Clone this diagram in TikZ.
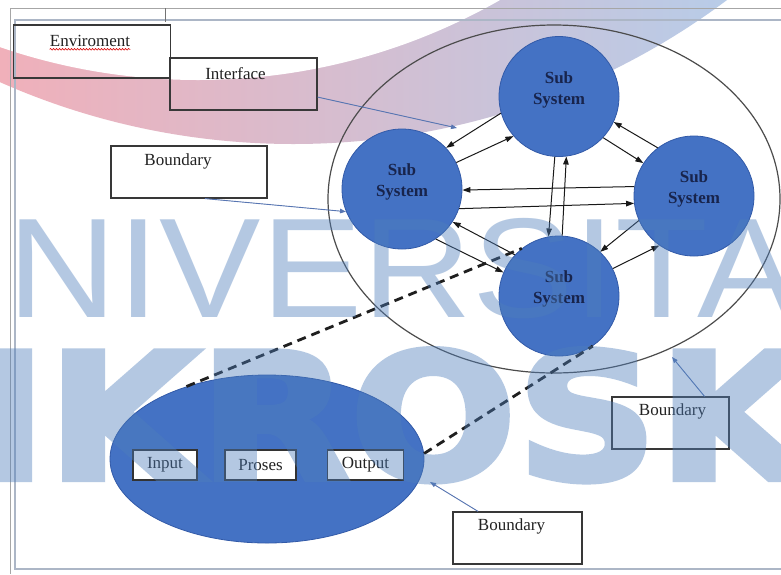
\documentclass[tikz,border=0pt]{standalone}
\usepackage{fontspec}
\setmainfont{Liberation Serif}
\newfontfamily\wmlight[FakeStretch=1.07]{Liberation Sans}
\newfontfamily\wmheavy[FakeBold=3.5,FakeStretch=1.12]{DejaVu Sans Bold}
\usetikzlibrary{arrows.meta,shapes.geometric,decorations.pathmorphing}

\definecolor{subblue}{RGB}{68,114,196}
\definecolor{subedge}{RGB}{50,90,168}
\definecolor{inktext}{RGB}{34,34,34}
\definecolor{navytext}{RGB}{24,36,76}
\definecolor{framecol}{RGB}{172,182,198}
\definecolor{pointercol}{RGB}{88,118,178}
\definecolor{swooshL}{RGB}{240,176,186}
\definecolor{swooshM}{RGB}{214,194,214}
\definecolor{swooshR}{RGB}{184,204,232}
\definecolor{wmark}{RGB}{78,126,187}

\begin{document}
\begin{tikzpicture}[x=1pt,y=-1pt,
  tagbox/.style={draw=black!78, line width=1.2pt, inner sep=0pt},
  tagtext/.style={font=\fontsize{17}{17}\selectfont, text=inktext, inner sep=0pt},
  smallbox/.style={draw=black!80, fill=white, line width=1.2pt, inner sep=0pt,
    minimum height=30, font=\fontsize{17}{17}\selectfont, text=inktext},
  subsys/.style={circle, fill=subblue, draw=subedge, line width=0.8pt,
    minimum size=120, inner sep=0pt},
  subtext/.style={font=\bfseries\fontsize{17}{21}\selectfont, text=navytext,
    align=center, inner sep=0pt},
  flow/.style={-{Triangle[length=8pt,width=5.5pt]}, line width=1pt, draw=black!90},
  pointer/.style={-{Triangle[length=6pt,width=4.5pt]}, line width=0.9pt,
    draw=pointercol, fill=pointercol},
  link/.style={line width=2.8pt, dash pattern=on 9pt off 6pt, draw=black!88},
  wm/.style={anchor=base west, inner sep=0pt, text=wmark}]

\useasboundingbox (0,0) rectangle (781,574);
\fill[white] (0,0) rectangle (781,574);

% swoosh band across the top
\begin{scope}
  \clip (0,0) rectangle (781,574);
  \begin{scope}
    \clip (293.4,-580.7) circle (724.7);
    \shade[left color=swooshL, middle color=swooshM, right color=swooshR]
      (0,0) rectangle (727,150);
  \end{scope}
  \fill[white] (198,-529.6) circle (609.6);
\end{scope}

% page frame
\draw[black!35, line width=0.8pt] (781,8) -- (10,8) -- (10,574);
\draw[framecol, line width=2pt] (781,20) -- (15,20) -- (15,569) -- (781,569);
\draw[black!55, line width=1pt] (165,8) -- (165,22);

% labels
\node[tagbox, minimum width=157, minimum height=53] (env) at (92,51.5) {};
\node[tagbox, minimum width=147, minimum height=52] (iface) at (243.5,84) {};
\node[tagbox, minimum width=156, minimum height=52] (bnd1) at (189,172) {};
\node[tagbox, minimum width=117, minimum height=52] (bnd2) at (670.5,423) {};
\node[tagbox, minimum width=129, minimum height=52] (bnd3) at (517.5,538) {};

\node[tagtext] (envtext) at ([xshift=-2pt,yshift=-17pt]env.north) {Enviroment};
\draw[red!85!black, line width=0.6pt, decorate,
  decoration={snake, amplitude=0.8pt, segment length=3pt}]
  ([yshift=-2pt]envtext.south west) -- ([yshift=-2pt]envtext.south east);
\node[tagtext] at ([xshift=-8pt,yshift=-16pt]iface.north) {Interface};
\node[tagtext] at ([xshift=-11pt,yshift=-16pt]bnd1.north) {Boundary};
\node[tagtext] at ([xshift=2pt,yshift=-15pt]bnd2.north) {Boundary};
\node[tagtext] at ([xshift=-6pt,yshift=-15pt]bnd3.north) {Boundary};

% system boundary and its sub systems
\node[ellipse, draw=black!70, line width=1.2pt, minimum width=452,
  minimum height=348, inner sep=0pt] (sysb) at (554,199) {};

\node[subsys] (T) at (559,96.5) {};
\node[subsys] (L) at (402,189) {};
\node[subsys] (R) at (694,196) {};
\node[subsys] (B) at (559,296) {};
\foreach \n in {T,L,R,B}
  \node[subtext] at ([yshift=7pt]\n.center) {Sub\\System};

\draw[flow] (T.196) -- (L.43);
\draw[flow] (L.26) -- (T.221);
\draw[flow] (T.317) -- (R.147);
\draw[flow] (R.127) -- (T.335);
\draw[flow] (R.171) -- (L.359);
\draw[flow] (L.341) -- (R.187);
\draw[flow] (T.266) -- (B.100);
\draw[flow] (B.87) -- (T.277);
\draw[flow] (B.137) -- (L.327);
\draw[flow] (L.304) -- (B.157);
\draw[flow] (R.204) -- (B.47);
\draw[flow] (B.27) -- (R.235);

% the process view
\node[ellipse, fill=subblue, draw=subedge, line width=0.8pt,
  minimum width=314, minimum height=168, inner sep=0pt] (proc) at (267,459) {};
\node[smallbox, minimum width=64] (inp) at (165,465) {Input};
\node[smallbox, minimum width=71] (prs) at (260.5,465) {Proses};
\node[smallbox, minimum width=76] (out) at (365.5,465) {Output};

\draw[link] (proc.138.6) -- (B.128);
\draw[link] (proc.2.5) -- (B.304);

% pointers from the labels
\coordinate (ifaceTip) at (457,128);
\coordinate (bnd2Tip) at (672,357);
\coordinate (bnd3Tip) at (430,482);
\draw[pointer] (iface.-10) -- (ifaceTip);
\draw[pointer] (bnd1.-59) -- (L.202);
\draw[pointer] (bnd2.38.7) -- (bnd2Tip);
\draw[pointer] (bnd3.146) -- (bnd3Tip);

% watermark
\begin{scope}[transparency group, opacity=0.42]
  \clip (0,0) rectangle (781,574);
  \node[wm, font=\wmlight\fontsize{142}{142}\selectfont] (wmtop) at (-102,317) {UNIVERSITAS};
  \node[wm, font=\wmheavy\fontsize{175}{175}\selectfont] (wmbot) at (-221,479) {MIKROSKIL};
\end{scope}
\end{tikzpicture}
\end{document}
